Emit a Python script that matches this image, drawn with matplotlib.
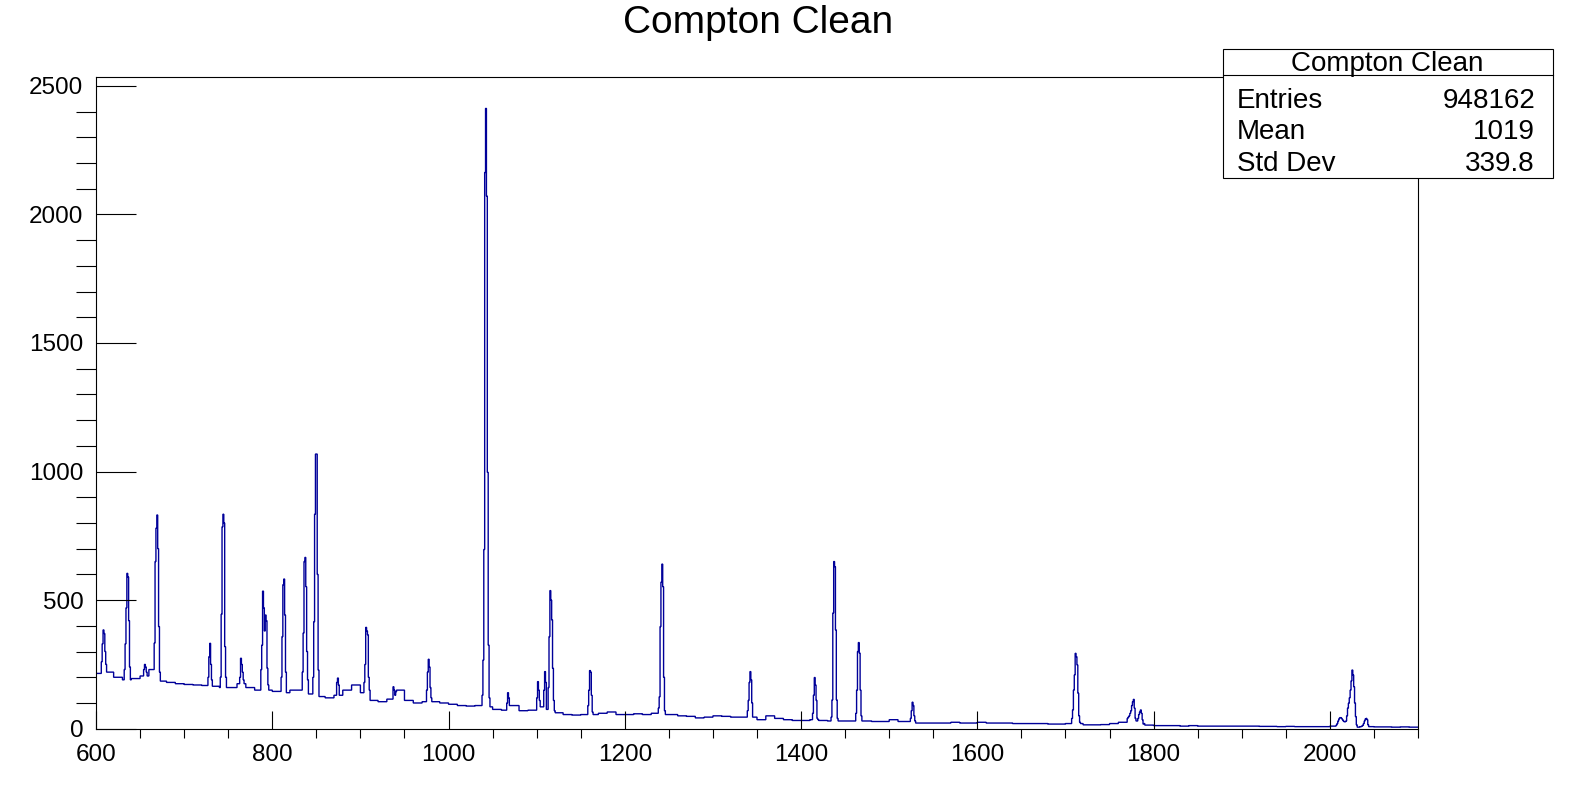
import matplotlib
matplotlib.use("Agg")
import matplotlib.pyplot as plt
import numpy as np
from matplotlib.patches import Rectangle
from matplotlib.ticker import MultipleLocator

plt.rcParams['font.family'] = ['Liberation Sans', 'DejaVu Sans']

# Histogram range (1 keV bins)
x_min, x_max = 600, 2100

# Background level, one value per 10 keV slice (600, 610, ..., 2090)
bg_level = [
    215, 220, 200, 190, 195, 205, 230, 185, 180, 175,   # 600-690
    172, 170, 168, 165, 160, 160, 175, 160, 150, 150,   # 700-790
    145, 140, 150, 150, 135, 125, 120, 130, 150, 170,   # 800-890
    140, 110, 105, 115, 150, 110, 100, 105, 105, 100,   # 900-990
    95, 90, 88, 90, 85, 75, 72, 90, 70, 72,             # 1000-1090
    85, 75, 62, 55, 53, 55, 55, 60, 65, 55,             # 1100-1190
    55, 58, 55, 60, 55, 55, 50, 48, 42, 45,             # 1200-1290
    50, 48, 45, 45, 45, 35, 50, 40, 35, 32,             # 1300-1390
    32, 35, 32, 30, 30, 30, 30, 30, 28, 28,             # 1400-1490
    35, 28, 28, 22, 22, 22, 22, 25, 22, 22,             # 1500-1590
    25, 22, 22, 22, 20, 20, 20, 20, 18, 18,             # 1600-1690
    20, 20, 15, 15, 16, 20, 25, 25, 20, 14,             # 1700-1790
    12, 12, 12, 10, 12, 10, 10, 10, 10, 10,             # 1800-1890
    10, 10, 9, 9, 8, 9, 8, 8, 8, 8,                     # 1900-1990
    10, 9, 9, 7, 8, 7, 7, 6, 7, 6,                      # 2000-2090
]

# Peaks: first bin and bin-by-bin counts
peak_start = [606, 632, 654, 665, 727, 741, 763, 787, 810, 834, 846, 873,
              904, 937, 975, 1038, 1066, 1100, 1108, 1113, 1158, 1238, 1339,
              1413, 1434, 1462, 1524, 1707, 1770, 2007]
peak_counts = [
    [260, 330, 384, 370, 300, 250],
    [230, 330, 470, 604, 590, 420, 240],
    [230, 250, 240, 220],
    [230, 333, 650, 780, 831, 700, 397, 220],
    [200, 280, 332, 250, 190],
    [200, 445, 785, 834, 800, 319, 200],
    [200, 274, 250, 220, 190],
    [230, 325, 535, 470, 380, 442, 420, 235, 170],
    [200, 358, 560, 582, 442, 220],
    [220, 372, 650, 666, 552, 300, 190],
    [200, 416, 834, 1068, 1068, 600, 228],
    [180, 197, 170],
    [180, 250, 394, 380, 365, 200, 150],
    [163, 150, 130, 144],
    [150, 220, 270, 240, 160, 120],
    [130, 267, 697, 2163, 2412, 2071, 997, 325, 120],
    [100, 140, 120, 90],
    [120, 183, 150, 110],
    [150, 222, 180],
    [160, 358, 537, 500, 423, 235, 110, 70],
    [90, 150, 226, 220, 130, 65],
    [80, 124, 397, 570, 640, 552, 200, 70],
    [70, 110, 180, 222, 190, 100, 45],
    [60, 130, 199, 170, 110, 40],
    [45, 112, 450, 650, 630, 384, 112, 40],
    [60, 150, 300, 335, 294, 150, 50],
    [40, 70, 103, 90, 50, 30],
    [40, 73, 150, 209, 293, 280, 248, 138, 50, 25],
    [40, 45, 50, 60, 70, 90, 105, 114, 80, 40, 30, 30, 40, 55, 65, 73, 60, 35, 18],
    [14, 20, 30, 38, 43, 43, 40, 35, 30, 27, 27, 30, 50, 80, 99, 120, 150, 186,
     228, 209, 163, 100, 47, 15, 6, 6, 6, 8, 8, 10, 13, 20, 30, 38, 40, 35, 15, 8],
]

# Stats box
hist_title = "Compton Clean"
stat_names = ["Entries", "Mean", "Std Dev"]
stat_values = ["948162", "1019", "339.8"]

# Build the histogram contents
edges = np.arange(x_min, x_max + 1)
counts = np.repeat(np.array(bg_level, dtype=float), 10)
for start, vals in zip(peak_start, peak_counts):
    i = start - x_min
    counts[i:i + len(vals)] = vals

W, H = 1572, 796
fig = plt.figure(figsize=(W / 100, H / 100), dpi=100)
ax = fig.add_axes([96 / W, 1 - 728.7 / H, (1418 - 96) / W, (728.7 - 77.3) / H])

ax.stairs(counts, edges, color='#000099', linewidth=1.0, baseline=None)

ax.set_xlim(x_min, x_max)
ax.set_ylim(0, 2533)

ax.xaxis.set_major_locator(MultipleLocator(200))
ax.xaxis.set_minor_locator(MultipleLocator(50))
ax.yaxis.set_major_locator(MultipleLocator(500))
ax.yaxis.set_minor_locator(MultipleLocator(100))

ax.tick_params(axis='both', direction='in', labelsize=17.5, width=0.8, color='black')
ax.tick_params(axis='x', which='major', length=13, pad=11)
ax.tick_params(axis='x', which='minor', length=6.5, width=0.8)
ax.tick_params(axis='y', which='major', length=29, pad=9)
ax.tick_params(axis='y', which='minor', length=14.4, width=0.8)
ax.tick_params(top=False, right=False, which='both')

for sp in ax.spines.values():
    sp.set_linewidth(0.8)

fig.text(758 / W, 1 - 23 / H, hist_title, ha='center', va='center', fontsize=28)

# stats box (drawn on the figure, on top of the frame)
bx0, bx1, by0, by1 = 1222.5, 1552.5, 49.5, 177.5
fig.add_artist(Rectangle((bx0 / W, 1 - by1 / H), (bx1 - bx0) / W, (by1 - by0) / H,
                         transform=fig.transFigure, facecolor='white',
                         edgecolor='black', linewidth=0.8, zorder=5))
fig.add_artist(plt.Line2D([bx0 / W, bx1 / W], [1 - 75 / H, 1 - 75 / H],
                          transform=fig.transFigure, color='black',
                          linewidth=0.8, zorder=6))
fig.text((bx0 + bx1) / 2 / W, 1 - 64 / H, hist_title, ha='center', va='center',
         fontsize=20, zorder=7)
row_y = [101, 132, 164]
for name, val, y in zip(stat_names, stat_values, row_y):
    fig.text(1237 / W, 1 - y / H, name, ha='left', va='center', fontsize=20, zorder=7)
    fig.text(1535 / W, 1 - y / H, val, ha='right', va='center', fontsize=20, zorder=7)

fig.savefig("out.png", dpi=100)
